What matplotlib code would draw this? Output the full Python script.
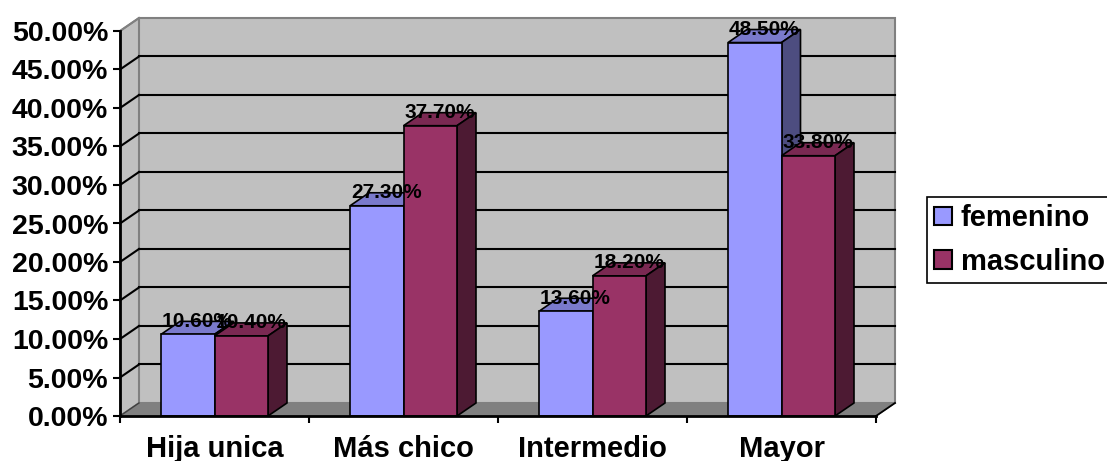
import matplotlib
matplotlib.use("Agg")
import matplotlib.pyplot as plt
from matplotlib.patches import Polygon, Rectangle, Patch
from matplotlib.ticker import FuncFormatter

plt.rcParams['font.family'] = ['Liberation Sans', 'DejaVu Sans']

# --- data ---
categories = ["Hija unica", "Más chico", "Intermedio", "Mayor"]
series_names = ["femenino", "masculino"]
femenino = [10.6, 27.3, 13.6, 48.5]
masculino = [10.4, 37.7, 18.2, 33.8]
y_ticks = [0, 5, 10, 15, 20, 25, 30, 35, 40, 45, 50]

# --- style ---
face_colors = ["#9999FF", "#993366"]
top_colors = ["#7A7ACC", "#7A2952"]
side_colors = ["#4D4D80", "#4D1A33"]
wall_color = "#C0C0C0"
floor_color = "#808080"
edge_gray = "#808080"

W, H, DPI = 1107, 461, 100
fig = plt.figure(figsize=(W / DPI, H / DPI), dpi=DPI)
fig.patch.set_facecolor("white")

ax = fig.add_axes([120 / W, 45 / H, 756 / W, 385 / H])
ax.set_xlim(0, len(categories))
ax.set_ylim(0, 50)
ax.set_facecolor("none")

# depth offset of the 3-D box (category units, value units)
DX = 0.1005
DY = 1.69
YMAX = 50
NCAT = len(categories)

# left side wall
ax.add_patch(Polygon([(0, 0), (0, YMAX), (DX, YMAX + DY), (DX, DY)], closed=True,
                     facecolor=wall_color, edgecolor=edge_gray, lw=1.3, clip_on=False, zorder=0.5))
# back wall
ax.add_patch(Rectangle((DX, DY), NCAT, YMAX, facecolor=wall_color, edgecolor=edge_gray,
                       lw=1.5, clip_on=False, zorder=0.5))
# floor
ax.add_patch(Polygon([(0, 0), (NCAT, 0), (NCAT + DX, DY), (DX, DY)], closed=True,
                     facecolor=floor_color, edgecolor=edge_gray, lw=1.0, clip_on=False, zorder=0.6))
ax.plot([NCAT, NCAT + DX], [0, DY], color="black", lw=1.3, clip_on=False, zorder=0.7)
ax.plot([0, DX], [0, DY], color="#404040", lw=1.0, clip_on=False, zorder=0.7)

# gridlines on back and side walls
for v in y_ticks[1:-1]:
    ax.plot([DX, NCAT + DX], [v + DY, v + DY], color="black", lw=1.5, clip_on=False, zorder=0.8)
    ax.plot([0, DX], [v, v + DY], color="black", lw=1.5, clip_on=False, zorder=0.8)
ax.plot([0, DX], [YMAX, YMAX + DY], color=edge_gray, lw=1.5, clip_on=False, zorder=0.8)

BAR_W = 0.283


def draw_bar(x0, h, k, z):
    top = Polygon([(x0, h), (x0 + BAR_W, h), (x0 + BAR_W + DX, h + DY), (x0 + DX, h + DY)],
                  closed=True, facecolor=top_colors[k], edgecolor="black", lw=1.2,
                  clip_on=False, zorder=z)
    side = Polygon([(x0 + BAR_W, 0), (x0 + BAR_W + DX, DY), (x0 + BAR_W + DX, h + DY), (x0 + BAR_W, h)],
                   closed=True, facecolor=side_colors[k], edgecolor="black", lw=1.2,
                   clip_on=False, zorder=z)
    front = Rectangle((x0, 0), BAR_W, h, facecolor=face_colors[k], edgecolor="black", lw=1.2,
                      clip_on=False, zorder=z + 0.01)
    for p in (top, side, front):
        ax.add_patch(p)


series = [femenino, masculino]
for i in range(NCAT):
    for k, vals in enumerate(series):
        x0 = i + 0.5 - BAR_W + k * BAR_W
        draw_bar(x0, vals[i], k, 2 + i * 0.1 + k * 0.05)

# value labels on the back edge of each bar top
for i in range(NCAT):
    for k, vals in enumerate(series):
        x0 = i + 0.5 - BAR_W + k * BAR_W
        ax.text(x0 + BAR_W / 2 + DX / 2, vals[i] + DY, f"{vals[i]:.2f}%",
                ha="center", va="center", fontsize=15, fontweight="bold",
                color="black", zorder=10, clip_on=False)

# axes styling
for s in ("top", "right"):
    ax.spines[s].set_visible(False)
ax.spines["left"].set_linewidth(2)
ax.spines["bottom"].set_linewidth(2)
ax.spines["left"].set_zorder(5)
ax.spines["bottom"].set_zorder(5)

ax.set_yticks(y_ticks)
ax.yaxis.set_major_formatter(FuncFormatter(lambda v, p: f"{v:.2f}%"))
ax.tick_params(axis="y", direction="out", length=5, width=1.5, pad=3.5,
               labelsize=20.5)
for t in ax.get_yticklabels():
    t.set_fontweight("bold")

ax.set_xticks(range(NCAT + 1))
ax.set_xticklabels([])
ax.set_xticks([i + 0.5 for i in range(NCAT)], minor=True)
ax.set_xticklabels(categories, minor=True, fontsize=21, fontweight="bold")
ax.tick_params(axis="x", which="major", direction="out", length=5, width=1.5)
ax.tick_params(axis="x", which="minor", length=0, pad=14)

# legend
handles = [Patch(facecolor=face_colors[k], edgecolor="black", lw=1.5) for k in range(2)]
leg = fig.legend(handles, series_names, loc="upper left",
                 bbox_to_anchor=(927 / W, 1 - 197 / H), borderaxespad=0,
                 prop={"weight": "bold", "size": 21}, handlelength=0.62, handleheight=0.62,
                 handletextpad=0.28, borderpad=0.25, labelspacing=0.53,
                 fancybox=False, framealpha=1, edgecolor="black")
leg.get_frame().set_linewidth(1.2)

fig.savefig("out.png", dpi=DPI)
